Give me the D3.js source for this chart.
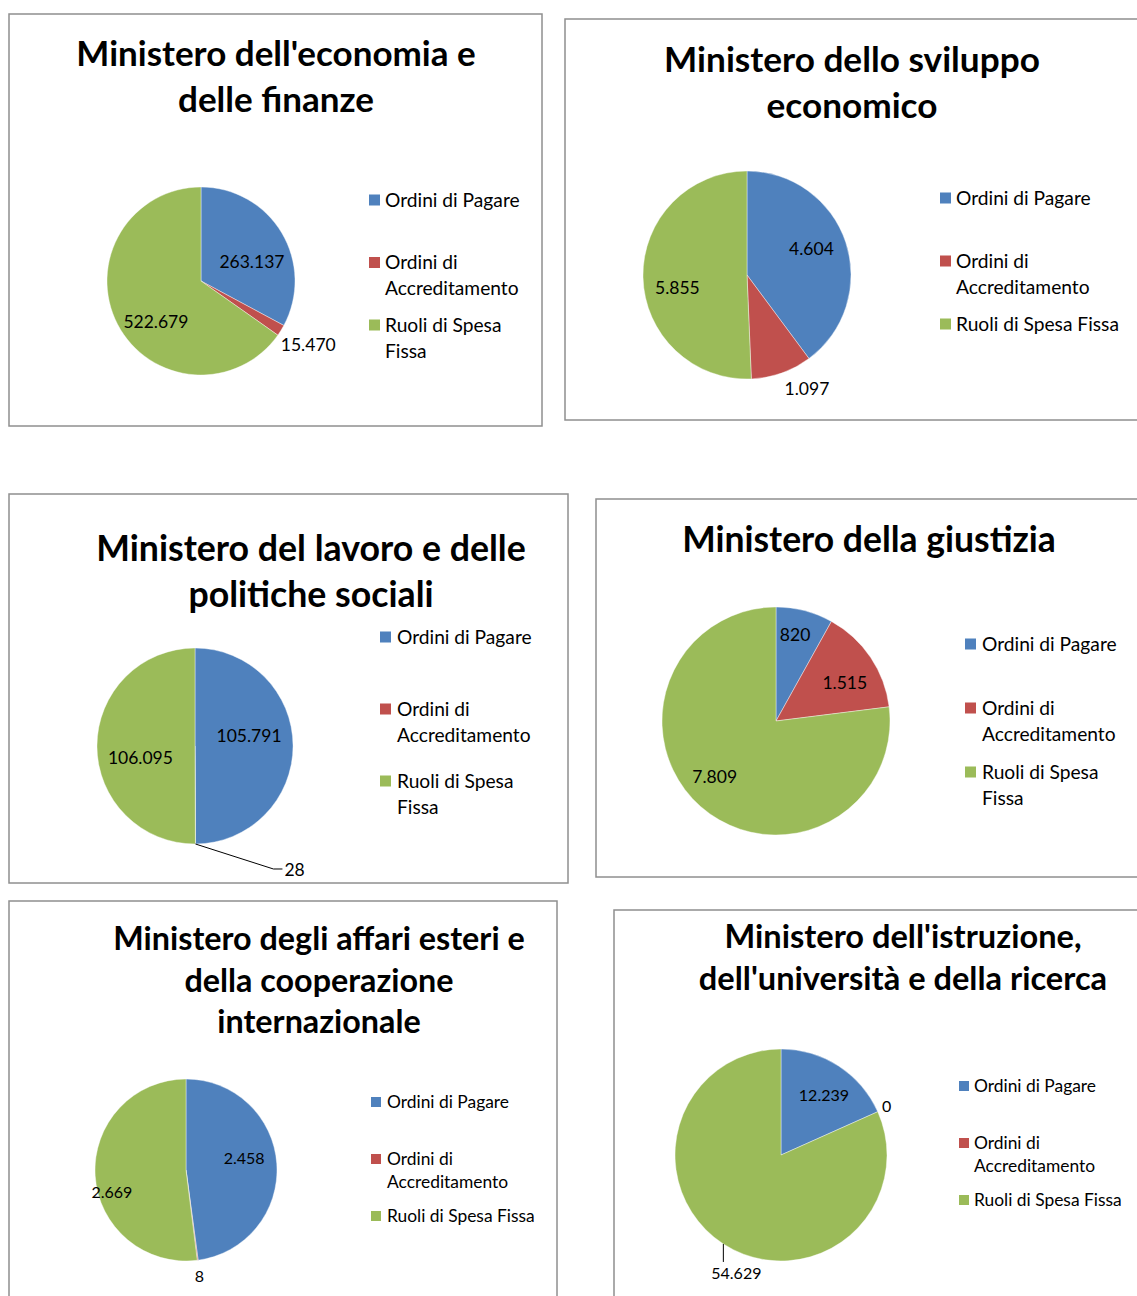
<!DOCTYPE html>
<html>
<head>
<meta charset="utf-8">
<script src="https://cdn.jsdelivr.net/npm/d3@7"></script>
<style>
  body { margin: 0; background: #fff; }
  svg { display: block; }
  text { font-family: Lato, "Liberation Sans", sans-serif; fill: #000; }
</style>
</head>
<body>
<svg id="chart" width="1137" height="1296"></svg>
<script>
// categories + colours shared by all six pies
const categories = ['Ordini di Pagare', 'Ordini di Accreditamento', 'Ruoli di Spesa Fissa'];
const colors = ['#4F81BD', '#C0504D', '#9BBB59'];

const titles = [
    "Ministero dell'economia e\ndelle finanze",
    'Ministero dello sviluppo\neconomico',
    'Ministero del lavoro e delle\npolitiche sociali',
    'Ministero della giustizia',
    'Ministero degli affari esteri e\ndella cooperazione\ninternazionale',
    "Ministero dell'istruzione,\ndell'università e della ricerca"
];

// values per ministry, same order as categories
const valuesEconomia = [263137, 15470, 522679];
const valuesSviluppo = [4604, 1097, 5855];
const valuesLavoro = [105791, 28, 106095];
const valuesGiustizia = [820, 1515, 7809];
const valuesEsteri = [2458, 8, 2669];
const valuesIstruzione = [12239, 0, 54629];

const allValues = [valuesEconomia, valuesSviluppo, valuesLavoro, valuesGiustizia, valuesEsteri, valuesIstruzione];

// italian number format: 263.137
const itLocale = d3.formatLocale({decimal: ',', thousands: '.', grouping: [3], currency: ['€', '']});
const fmt = itLocale.format(',d');

// layout of each panel (positions only)
const layouts = [
    {
        frame: [9, 14, 542, 426], titleX: 276, titleY: 66, titleSize: 35, titleLH: 46,
        cx: 201, cy: 281, r: 94, labelSize: 17.5,
        legend: {sx: 369, tx: 385, y0: 200, step: 62.5, size: 19.2, lh: 26, box: 11, maxW: 150},
        labels: [{k: 0.58, a: 10}, {out: 9, a: 3}, {k: 0.65, a: -15}]
    },
    {
        frame: [565, 19, 1170, 420], titleX: 852, titleY: 72, titleSize: 35.2, titleLH: 46,
        cx: 747, cy: 275, r: 104, labelSize: 17.5,
        legend: {sx: 940, tx: 956, y0: 198, step: 63, size: 19.2, lh: 26, box: 11, maxW: 185},
        labels: [{k: 0.67, a: -4}, {out: 13, a: -6}, {k: 0.68, a: -9}]
    },
    {
        frame: [9, 494, 568, 883], titleX: 311, titleY: 561, titleSize: 35.7, titleLH: 46,
        cx: 195, cy: 746, r: 98, labelSize: 17.5,
        legend: {sx: 380, tx: 397, y0: 637, step: 72, size: 19.2, lh: 26, box: 11, maxW: 150},
        labels: [{k: 0.56, a: -10}, {leader: [78, 25], tail: 9, below: false}, {k: 0.57, a: -12}]
    },
    {
        frame: [596, 499, 1170, 877], titleX: 869, titleY: 552, titleSize: 35.5, titleLH: 46,
        cx: 776, cy: 721, r: 114, labelSize: 17.5,
        legend: {sx: 965, tx: 982, y0: 644, step: 64, size: 19.2, lh: 26, box: 11, maxW: 150},
        labels: [{k: 0.77, a: -2}, {k: 0.69, a: 5}, {k: 0.73, a: 6}]
    },
    {
        frame: [9, 901, 557, 1330], titleX: 319, titleY: 950, titleSize: 32.3, titleLH: 41.5,
        cx: 186, cy: 1170, r: 91, labelSize: 16,
        legend: {sx: 371, tx: 387, y0: 1102, step: 57, size: 17.4, lh: 23, box: 10, maxW: 175},
        labels: [{k: 0.65, a: -7}, {out: 8}, {k: 0.85, a: -13}]
    },
    {
        frame: [614, 910, 1170, 1330], titleX: 903, titleY: 948, titleSize: 32.6, titleLH: 42,
        cx: 781, cy: 1155, r: 106, labelSize: 16,
        legend: {sx: 959, tx: 974, y0: 1086, step: 57, size: 17.4, lh: 23, box: 10, maxW: 175},
        labels: [{k: 0.69, a: 3}, {out: 5}, {leader: [0, 18], tail: 0, below: true}]
    }
];

const svg = d3.select('#chart');
svg.append('rect').attr('width', 1137).attr('height', 1296).attr('fill', '#fff');

const toRad = deg => deg * Math.PI / 180;

// point at a given radius / angle through d3.arc
function pointAt(radius, angle) {
    return d3.arc().innerRadius(radius).outerRadius(radius)
        .startAngle(angle).endAngle(angle).centroid();
}

function wrapWords(textSel, words, maxW) {
    // greedy wrap, measuring with a scratch tspan
    const lines = [];
    let cur = [];
    const probe = textSel.append('tspan');
    words.forEach(w => {
        const test = cur.concat([w]).join(' ');
        probe.text(test);
        if (probe.node().getComputedTextLength() > maxW && cur.length) {
            lines.push(cur.join(' '));
            cur = [w];
        } else {
            cur.push(w);
        }
    });
    if (cur.length) lines.push(cur.join(' '));
    probe.remove();
    return lines;
}

function drawPanel(values, title, lay) {
    const g = svg.append('g');
    const [x0, y0, x1, y1] = lay.frame;
    g.append('rect')
        .attr('x', x0).attr('y', y0)
        .attr('width', x1 - x0).attr('height', y1 - y0)
        .attr('fill', '#fff')
        .attr('stroke', '#8f8f8f')
        .attr('stroke-width', 1.5);

    // title
    const t = g.append('text')
        .attr('x', lay.titleX).attr('y', lay.titleY)
        .attr('text-anchor', 'middle')
        .style('font-weight', 700)
        .style('font-size', lay.titleSize + 'px');
    title.split('\n').forEach((line, i) => {
        t.append('tspan').attr('x', lay.titleX).attr('dy', i ? lay.titleLH : 0).text(line);
    });

    // pie, starting at 12 o'clock going clockwise
    const arcs = d3.pie().sort(null).value(d => d)(values);
    const arc = d3.arc().innerRadius(0).outerRadius(lay.r);
    const pieG = g.append('g').attr('transform', `translate(${lay.cx},${lay.cy})`);
    pieG.selectAll('path')
        .data(arcs.filter(d => d.value > 0))
        .join('path')
        .attr('d', arc)
        .attr('fill', d => colors[d.index])
        .attr('stroke', '#fff')
        .attr('stroke-width', 0.4);

    // data labels
    arcs.forEach((a, i) => {
        const cfg = lay.labels[i];
        const mid = (a.startAngle + a.endAngle) / 2 + toRad(cfg.a || 0);
        const lbl = pieG.append('text')
            .style('font-size', lay.labelSize + 'px')
            .attr('dy', '0.35em')
            .text(fmt(values[i]));
        if (cfg.k !== undefined) {
            const p = pointAt(cfg.k * lay.r, mid);
            lbl.attr('text-anchor', 'middle').attr('x', p[0]).attr('y', p[1]);
        } else if (cfg.out !== undefined) {
            const p = pointAt(lay.r + cfg.out, mid);
            const w = lbl.node().getComputedTextLength();
            const ux = Math.sin(mid), uy = -Math.cos(mid);
            lbl.attr('text-anchor', 'middle')
                .attr('x', p[0] + ux * w / 2)
                .attr('y', p[1] + uy * lay.labelSize / 2);
        } else {
            const s = pointAt(lay.r, mid);
            const e = [s[0] + cfg.leader[0], s[1] + cfg.leader[1]];
            const tailEnd = [e[0] + cfg.tail, e[1]];
            pieG.insert('path', 'text')
                .attr('d', d3.line()([s, e, tailEnd]))
                .attr('fill', 'none')
                .attr('stroke', '#000')
                .attr('stroke-width', 1);
            if (cfg.below) {
                lbl.attr('text-anchor', 'middle')
                    .attr('x', e[0] + 13)
                    .attr('y', e[1] + lay.labelSize * 0.72);
            } else {
                lbl.attr('text-anchor', 'start')
                    .attr('x', tailEnd[0] + 2)
                    .attr('y', tailEnd[1] + 1);
            }
        }
    });

    // legend
    const L = lay.legend;
    categories.forEach((name, i) => {
        const cy = L.y0 + i * L.step;
        g.append('rect')
            .attr('x', L.sx).attr('y', cy - L.box / 2)
            .attr('width', L.box).attr('height', L.box)
            .attr('fill', colors[i]);
        const txt = g.append('text')
            .attr('x', L.tx).attr('y', cy)
            .style('font-size', L.size + 'px');
        const lines = wrapWords(txt, name.split(' '), L.maxW);
        lines.forEach((line, j) => {
            txt.append('tspan').attr('x', L.tx).attr('dy', j ? L.lh : '0.35em').text(line);
        });
    });
}

allValues.forEach((vals, i) => drawPanel(vals, titles[i], layouts[i]));
</script>
</body>
</html>
